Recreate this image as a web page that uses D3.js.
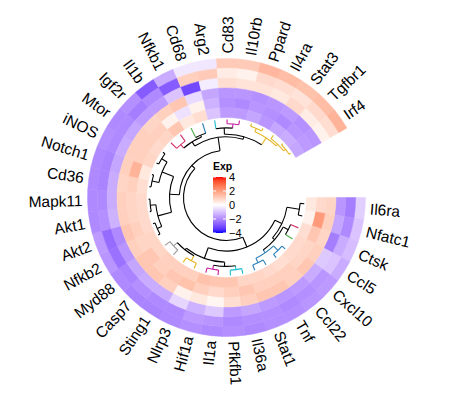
<!DOCTYPE html>
<html lang="en">
  <head>
    <meta charset="utf-8">
    <title>Circular heatmap</title>
    <style>
      body { margin: 0; background: #fff; }
      svg { display: block; font-family: "Liberation Sans", Arial, sans-serif; }
    </style>
    <script src="https://d3js.org/d3.v7.min.js"></script>
  </head>
  <body>
    <div class="chart"></div>
    <script>

    const genes = ["Il6ra","Nfatc1","Ctsk","Ccl5","Cxcl10","Ccl22","Tnf","Stat1","Il36a","Pfkfb1",
                   "Il1a","Hif1a","Nlrp3","Sting1","Casp7","Myd88","Nfkb2","Akt2","Akt1","Mapk11",
                   "Cd36","Notch1","iNOS","Mtor","Igf2r","Il1b","Nfkb1","Cd68","Arg2","Cd83",
                   "Il10rb","Ppard","Il4ra","Stat3","Tgfbr1","Irf4"]

    const samples = ["S1","S2","S3","S4","S5","S6"]

    // one array per ring, outer ring first, same order as genes
    const s1 = [-0.8,-1.0,-1.1,-1.4,-1.7,-1.8,-1.9,-1.9,-2.0,-1.9,-2.0,-1.9,-2.0,-2.1,-2.1,-2.0,-1.8,-1.7,
                -2.0,-2.0,-2.0,-2.0,-1.9,-2.0,-1.9,-2.8,-1.4,-0.4,-0.4,1.1,1.1,1.5,1.4,1.3,1.4,1.6]
    const s2 = [-2.2,-2.0,-1.4,-1.0,-1.8,-1.9,-2.0,-1.9,-1.9,-2.0,-1.8,-1.7,-2.0,-2.0,-1.9,-2.1,-2.4,-2.5,
                -1.9,-2.0,-2.1,-2.1,-2.0,-2.0,-2.2,-2.0,-2.8,1.0,1.1,0.4,0.3,0.8,0.7,0.6,0.8,0.7]
    const s3 = [-1.8,-1.5,-2.2,-0.9,-1.4,-1.7,-1.8,-1.7,-1.5,-1.7,-0.9,-1.3,-0.7,-1.4,-1.4,-1.5,-1.8,-2.0,
                -1.3,-1.4,-1.4,-1.5,-1.4,-1.5,-1.7,-1.7,-1.0,-3.1,-0.3,0.7,0.6,0.6,0.5,0.8,0.4,0.3]
    const s4 = [0.9,1.0,0.9,1.0,1.2,1.0,1.2,1.2,1.0,0.7,0.2,0.5,0.3,1.0,1.2,1.2,1.0,1.2,
                1.0,1.0,0.9,1.0,1.0,1.0,0.9,1.0,1.2,-0.6,-1.5,-1.8,-1.8,-1.9,-1.8,-1.7,-1.9,-1.8]
    const s5 = [0.8,2.1,1.2,0.9,0.9,1.0,1.0,1.0,1.2,1.0,0.8,1.0,1.3,1.2,1.0,1.2,0.9,1.0,
                0.9,0.9,1.0,1.6,1.0,1.0,1.0,0.3,-0.5,0.3,-1.3,-1.9,-2.0,-1.8,-1.9,-2.0,-1.8,-1.7]
    const s6 = [0.5,0.3,0.7,0.8,0.8,0.7,0.8,0.9,0.9,1.2,1.2,1.3,1.0,1.0,1.0,0.9,0.9,0.8,
                0.8,0.8,0.7,0.5,0.9,0.8,0.9,1.2,0.5,0.7,-1.0,-1.7,-1.7,-1.5,-1.8,-1.5,-1.4,-1.5]
    const rings = [s1,s2,s3,s4,s5,s6]

    // dendrogram: [height, left, right], leaves are gene indices
    const tree = [10,
      [7.0,
        [4.8, [1.2, 0, 1], [4.0, [2.4, 2, 3], [3.0, [1.2, 4, 5], [1.6, 6, 7]]]],
        [3.8, [2.6, [1.5, 8, 9], [1.4, 10, 11]], [3.2, [1.6, 12, 13], [1.8, 14, 15]]]],
      [8.8,
        [6.0, [2.0, [0.6, 16, 17], [0.4, 18, 19]], [2.5, [0.5, 20, 21], [0.7, 22, 23]]],
        [5.0, [3.6, [2.3, 24, 25], [3.0, 26, 27]],
              [4.2, [2.4, 28, [1.2, 29, 30]], [1.8, [0.8, 31, 32], [1.2, 33, [0.5, 34, 35]]]]]]]

    const leafColors = ["black","black","#D6336C","#4DAF4A","#2C7FB8","#2C7FB8","#2C7FB8","#2C7FB8",
                        "#17BECF","#17BECF","#C51B9D","#C51B9D","#E6B422","#E6B422","#999999","#999999",
                        "black","black","black","black","black","black","black","black",
                        "#D6336C","#D6336C","#4DAF4A","#2C7FB8","#17BECF","#C51B9D","#C51B9D",
                        "#E6B422","#E6B422","#E6B422","#E6B422","#E6B422"]

    const legendBreaks = [-4,-2,0,2,4]

    const width = 450, height = 404
    const cx = 226.5, cy = 197.5
    const rOuter = 139, rInner = 80
    const deg = Math.PI/180

    const svg = d3.select(".chart")
      .append("svg")
      .attr("width",width)
      .attr("height",height)

    const g = svg.append("g").attr("transform",`translate(${cx},${cy})`)

    // angle measured clockwise from east, heatmap covers 0..330 degrees
    const angle = d3.scaleBand()
      .domain(genes)
      .range([0, 330*deg])

    const radius = d3.scaleBand()
      .domain(samples)
      .range([rOuter, rInner])

    const color = d3.scaleLinear()
      .domain([-4,0,4])
      .range(["#0000FF","#FFFFFF","#FF0000"])
      .interpolate(d3.interpolateLab)

    const cells = []
    samples.forEach((s,j) => genes.forEach((gn,i) => cells.push({gene: gn, sample: s, value: rings[j][i]})))

    const arc = d3.arc()
      .innerRadius(d => radius(d.sample))
      .outerRadius(d => radius(d.sample) + radius.bandwidth())
      .startAngle(d => angle(d.gene) + Math.PI/2)
      .endAngle(d => angle(d.gene) + angle.bandwidth() + Math.PI/2)

    g.append("g")
      .selectAll("path")
      .data(cells)
      .join("path")
      .attr("d",arc)
      .attr("fill",d => color(d.value))
      .attr("stroke",d => color(d.value))
      .attr("stroke-width",0.5)

    // gene labels
    const labelR = rOuter + 5
    const midDeg = d => (angle(d) + angle.bandwidth()/2)/deg
    g.append("g")
      .selectAll("text")
      .data(genes)
      .join("text")
      .text(d => d)
      .attr("transform", d => {
        const a = midDeg(d)
        const flip = a > 90 && a < 270
        return `rotate(${a}) translate(${labelR},0)` + (flip ? " rotate(180)" : "")
      })
      .attr("text-anchor", d => midDeg(d) > 90 && midDeg(d) < 270 ? "end" : "start")
      .attr("dominant-baseline","central")
      .style("font-size","15.5px")
      .style("fill","black")

    // dendrogram inside the rings
    const hr = d3.scaleLinear().domain([0,10]).range([78,43])
    const dend = g.append("g").attr("fill","none").attr("stroke-width",1.1)

    function drawNode(node) {
      if (typeof node === "number") {
        return {a: angle(genes[node]) + angle.bandwidth()/2, h: 0, col: leafColors[node]}
      }
      const [h, l, r] = node
      const L = drawNode(l), R = drawNode(r)
      const col = L.col === R.col ? L.col : "black"
      ;[L,R].forEach(ch => {
        dend.append("line")
          .attr("x1", hr(ch.h)*Math.cos(ch.a)).attr("y1", hr(ch.h)*Math.sin(ch.a))
          .attr("x2", hr(h)*Math.cos(ch.a)).attr("y2", hr(h)*Math.sin(ch.a))
          .attr("stroke", ch.col)
      })
      const p = d3.path()
      p.moveTo(hr(h)*Math.cos(L.a), hr(h)*Math.sin(L.a))
      p.arc(0, 0, hr(h), L.a, R.a)
      dend.append("path").attr("d", p.toString()).attr("stroke", col)
      return {a: (L.a + R.a)/2, h: h, col: col}
    }
    drawNode(tree)

    // colour legend
    const lx = 213, ly0 = 177, ly1 = 233, lw = 13
    const legendY = d3.scaleLinear().domain([-4,4]).range([ly1, ly0])

    const grad = svg.append("defs").append("linearGradient")
      .attr("id","expGrad")
      .attr("x1",0).attr("y1",1).attr("x2",0).attr("y2",0)
    d3.range(-4, 4.01, 0.5).forEach(v => {
      grad.append("stop").attr("offset",(v+4)/8).attr("stop-color",color(v))
    })

    svg.append("text")
      .attr("x",lx)
      .attr("y",ly0-7)
      .text("Exp")
      .style("font-size","10.5px")
      .style("font-weight","bold")

    svg.append("rect")
      .attr("x",lx).attr("y",ly0)
      .attr("width",lw).attr("height",ly1-ly0)
      .attr("fill","url(#expGrad)")

    svg.append("g")
      .selectAll("line")
      .data(legendBreaks.flatMap(v => [[v,lx,lx+3],[v,lx+lw-3,lx+lw]]))
      .join("line")
      .attr("x1",d => d[1]).attr("x2",d => d[2])
      .attr("y1",d => legendY(d[0])).attr("y2",d => legendY(d[0]))
      .attr("stroke","white")
      .attr("stroke-width",1)

    const legendAxis = svg.append("g")
      .attr("transform",`translate(${lx+lw},0)`)
      .call(d3.axisRight(legendY).tickValues(legendBreaks).tickSize(0).tickPadding(3)
        .tickFormat(d => d < 0 ? "\u2212" + (-d) : d))
    legendAxis.select(".domain").remove()
    legendAxis.selectAll("text")
      .style("font-size","11px")
      .style("font-family","Liberation Sans, Arial, sans-serif")
      .attr("fill","black")

    </script>
  </body>
</html>
